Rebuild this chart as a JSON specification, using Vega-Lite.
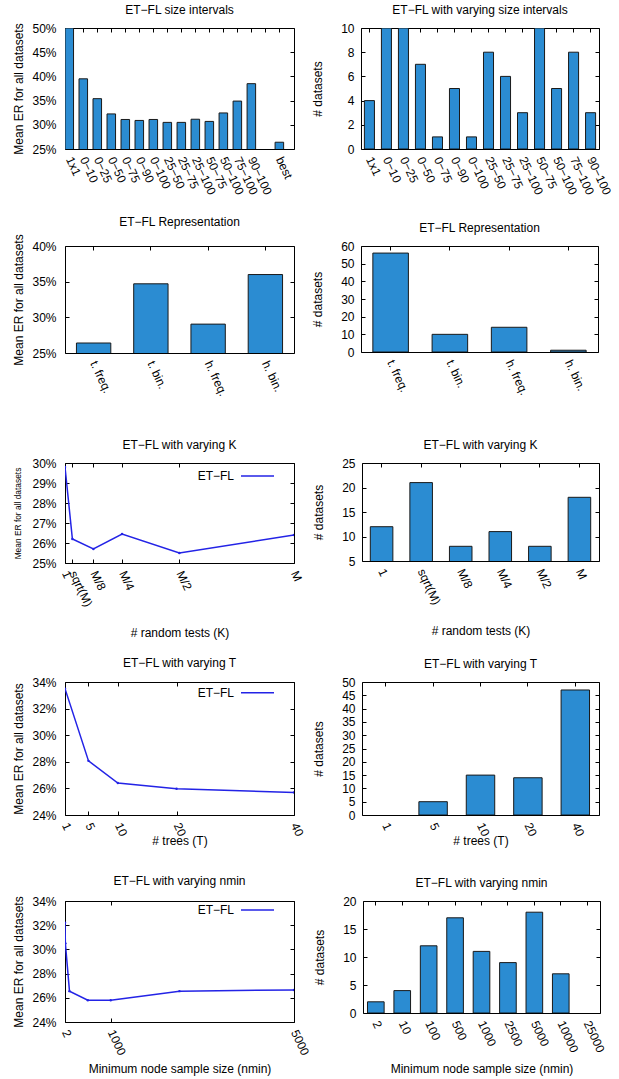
{
"$schema": "https://vega.github.io/schema/vega-lite/v6.json",
"padding": {"left": 11, "top": 3, "right": 5, "bottom": 4},
"background": "white",
"config": {
  "font": "Liberation Sans",
  "view": {"stroke": "#000", "strokeWidth": 1},
  "title": {"fontSize": 12, "fontWeight": "normal", "color": "#000", "offset": 5, "frame": "group", "anchor": "middle"},
  "axis": {"grid": false, "domain": false, "labelFontSize": 12, "labelColor": "#000", "titleFontSize": 12, "titleFontWeight": "normal", "titleColor": "#000", "tickColor": "#000", "labelOverlap": false, "labelFlush": false},
  "axisY": {"tickSize": -4, "labelPadding": 13, "minExtent": 30, "maxExtent": 30, "titlePadding": 10},
  "axisX": {"ticks": false, "labelAngle": 65, "labelAlign": "left", "labelBaseline": "middle", "labelPadding": 8, "titleBaseline": "top"},
  "legend": {"labelFontSize": 12, "labelColor": "#000"}
},
"resolve": {"scale": {"color": "independent"}, "legend": {"color": "independent"}},
"vconcat": [
  {"hconcat": [
    {"title": "ET−FL size intervals", "width": 229, "height": 121,
     "data": {"values": [
       {"interval": "1x1", "er": 0.5},
       {"interval": "0−10", "er": 0.395},
       {"interval": "0−25", "er": 0.354},
       {"interval": "0−50", "er": 0.3225},
       {"interval": "0−75", "er": 0.311},
       {"interval": "0−90", "er": 0.309},
       {"interval": "0−100", "er": 0.311},
       {"interval": "25−50", "er": 0.305},
       {"interval": "25−75", "er": 0.305},
       {"interval": "25−100", "er": 0.3115},
       {"interval": "50−75", "er": 0.307},
       {"interval": "50−100", "er": 0.3245},
       {"interval": "75−100", "er": 0.349},
       {"interval": "90−100", "er": 0.385},
       {"interval": "best", "er": 0.264}
     ]},
     "layer": [
       {"mark": {"type": "bar", "fill": "#2b8cd2", "stroke": "#1a1a1a", "strokeWidth": 1, "clip": true},
        "encoding": {
          "x": {"field": "interval", "type": "nominal",
                "scale": {"domain": ["1x1", "0−10", "0−25", "0−50", "0−75", "0−90", "0−100", "25−50", "25−75", "25−100", "50−75", "50−100", "75−100", "90−100", " ", "best"], "paddingInner": 0.39, "paddingOuter": 0.37, "align": 0},
                "axis": {"title": null}},
          "y": {"field": "er", "type": "quantitative",
                "scale": {"domain": [0.25, 0.5], "nice": false, "zero": false},
                "axis": {"title": "Mean ER for all datasets", "format": ".0%", "values": [0.25, 0.3, 0.35, 0.4, 0.45, 0.5]}}
        }},
       {"mark": {"type": "bar", "opacity": 0, "clip": true},
        "encoding": {
          "x": {"field": "interval", "type": "nominal",
                "scale": {"domain": ["1x1", "0−10", "0−25", "0−50", "0−75", "0−90", "0−100", "25−50", "25−75", "25−100", "50−75", "50−100", "75−100", "90−100", " ", "best"], "paddingInner": 0.39, "paddingOuter": 0.37, "align": 0},
                "axis": {"orient": "top", "labels": false, "ticks": true, "tickSize": -4, "title": null}},
          "y": {"field": "er", "type": "quantitative",
                "scale": {"domain": [0.25, 0.5], "nice": false, "zero": false},
                "axis": {"orient": "right", "labels": false, "title": null, "minExtent": 0, "maxExtent": 0, "values": [0.25, 0.3, 0.35, 0.4, 0.45, 0.5]}}
        }}
     ],
     "resolve": {"axis": {"x": "independent", "y": "independent"}}},
    {"title": "ET−FL with varying size intervals", "width": 238, "height": 121,
     "data": {"values": [
       {"interval": "1x1", "n": 4},
       {"interval": "0−10", "n": 10},
       {"interval": "0−25", "n": 10},
       {"interval": "0−50", "n": 7},
       {"interval": "0−75", "n": 1},
       {"interval": "0−90", "n": 5},
       {"interval": "0−100", "n": 1},
       {"interval": "25−50", "n": 8},
       {"interval": "25−75", "n": 6},
       {"interval": "25−100", "n": 3},
       {"interval": "50−75", "n": 10},
       {"interval": "50−100", "n": 5},
       {"interval": "75−100", "n": 8},
       {"interval": "90−100", "n": 3}
     ]},
     "layer": [
       {"mark": {"type": "bar", "fill": "#2b8cd2", "stroke": "#1a1a1a", "strokeWidth": 1, "clip": true},
        "encoding": {
          "x": {"field": "interval", "type": "nominal", "sort": null,
                "scale": {"paddingInner": 0.41, "paddingOuter": 0.2},
                "axis": {"title": null}},
          "y": {"field": "n", "type": "quantitative",
                "scale": {"domain": [0, 10], "nice": false},
                "axis": {"title": "# datasets", "values": [0, 2, 4, 6, 8, 10], "titlePadding": 7, "labelPadding": 11}}
        }},
       {"mark": {"type": "bar", "opacity": 0, "clip": true},
        "encoding": {
          "x": {"field": "interval", "type": "nominal", "sort": null,
                "scale": {"paddingInner": 0.41, "paddingOuter": 0.2},
                "axis": {"orient": "top", "labels": false, "ticks": true, "tickSize": -4, "title": null}},
          "y": {"field": "n", "type": "quantitative",
                "scale": {"domain": [0, 10], "nice": false},
                "axis": {"orient": "right", "labels": false, "title": null, "minExtent": 0, "maxExtent": 0, "values": [0, 2, 4, 6, 8, 10]}}
        }}
     ],
     "resolve": {"axis": {"x": "independent", "y": "independent"}}}
  ], "spacing": 15},
  {"vconcat": [
    {"hconcat": [
      {"title": "ET−FL Representation", "width": 229, "height": 107,
       "data": {"values": [
         {"rep": "t. freq.", "er": 0.264},
         {"rep": "t. bin.", "er": 0.347},
         {"rep": "h. freq.", "er": 0.2905},
         {"rep": "h. bin.", "er": 0.36}
       ]},
       "layer": [
         {"mark": {"type": "bar", "fill": "#2b8cd2", "stroke": "#1a1a1a", "strokeWidth": 1, "clip": true},
          "encoding": {
            "x": {"field": "rep", "type": "nominal", "sort": null,
                  "scale": {"paddingInner": 0.4, "paddingOuter": 0.2},
                  "axis": {"title": null}},
            "y": {"field": "er", "type": "quantitative",
                  "scale": {"domain": [0.25, 0.4], "nice": false, "zero": false},
                  "axis": {"title": "Mean ER for all datasets", "format": ".0%", "values": [0.25, 0.3, 0.35, 0.4]}}
          }},
         {"mark": {"type": "bar", "opacity": 0, "clip": true},
          "encoding": {
            "x": {"field": "rep", "type": "nominal", "sort": null,
                  "scale": {"paddingInner": 0.4, "paddingOuter": 0.2},
                  "axis": {"orient": "top", "labels": false, "ticks": true, "tickSize": -4, "title": null}},
            "y": {"field": "er", "type": "quantitative",
                  "scale": {"domain": [0.25, 0.4], "nice": false, "zero": false},
                  "axis": {"orient": "right", "labels": false, "title": null, "minExtent": 0, "maxExtent": 0, "values": [0.25, 0.3, 0.35, 0.4]}}
          }}
       ],
       "resolve": {"axis": {"x": "independent", "y": "independent"}}},
      {"title": "ET−FL Representation", "width": 237, "height": 106,
       "data": {"values": [
         {"rep": "t. freq.", "n": 56},
         {"rep": "t. bin.", "n": 10},
         {"rep": "h. freq.", "n": 14},
         {"rep": "h. bin.", "n": 1}
       ]},
       "layer": [
         {"mark": {"type": "bar", "fill": "#2b8cd2", "stroke": "#1a1a1a", "strokeWidth": 1, "clip": true},
          "encoding": {
            "x": {"field": "rep", "type": "nominal", "sort": null,
                  "scale": {"paddingInner": 0.4, "paddingOuter": 0.2},
                  "axis": {"title": null}},
            "y": {"field": "n", "type": "quantitative",
                  "scale": {"domain": [0, 60], "nice": false},
                  "axis": {"title": "# datasets", "values": [0, 10, 20, 30, 40, 50, 60], "titlePadding": 7, "labelPadding": 11}}
          }},
         {"mark": {"type": "bar", "opacity": 0, "clip": true},
          "encoding": {
            "x": {"field": "rep", "type": "nominal", "sort": null,
                  "scale": {"paddingInner": 0.4, "paddingOuter": 0.2},
                  "axis": {"orient": "top", "labels": false, "ticks": true, "tickSize": -4, "title": null}},
            "y": {"field": "n", "type": "quantitative",
                  "scale": {"domain": [0, 60], "nice": false},
                  "axis": {"orient": "right", "labels": false, "title": null, "minExtent": 0, "maxExtent": 0, "values": [0, 10, 20, 30, 40, 50, 60]}}
          }}
       ],
       "resolve": {"axis": {"x": "independent", "y": "independent"}}}
    ], "spacing": 15},
    {"vconcat": [
      {"hconcat": [
        {"title": "ET−FL with varying K", "width": 229, "height": 100,
         "data": {"values": [
           {"k": 1, "er": 0.298, "series": "ET−FL"},
           {"k": 30, "er": 0.262, "series": "ET−FL"},
           {"k": 112.5, "er": 0.257, "series": "ET−FL"},
           {"k": 225, "er": 0.2645, "series": "ET−FL"},
           {"k": 450, "er": 0.255, "series": "ET−FL"},
           {"k": 900, "er": 0.264, "series": "ET−FL"}
         ]},
         "layer": [
           {"mark": {"type": "line", "strokeWidth": 1.5, "clip": true, "point": {"filled": true, "size": 6}},
            "encoding": {
              "x": {"field": "k", "type": "quantitative",
                    "scale": {"domain": [1, 900], "nice": false, "zero": false},
                    "axis": {"title": "# random tests (K)", "titleY": 64, "values": [1, 30, 112.5, 225, 450, 900], "ticks": true, "tickSize": -4, "labelPadding": 12,
                             "labelExpr": "datum.value == 1 ? '1' : datum.value == 30 ? 'sqrt(M)' : datum.value == 112.5 ? 'M/8' : datum.value == 225 ? 'M/4' : datum.value == 450 ? 'M/2' : 'M'"}},
              "y": {"field": "er", "type": "quantitative",
                    "scale": {"domain": [0.25, 0.3], "nice": false, "zero": false},
                    "axis": {"title": "Mean ER for all datasets", "titleFontSize": 8.4, "titlePadding": 13, "format": ".0%", "values": [0.25, 0.26, 0.27, 0.28, 0.29, 0.3]}},
              "color": {"field": "series", "type": "nominal", "scale": {"range": ["#2323e6"]},
                        "legend": {"title": null, "orient": "none", "legendX": 175, "legendY": -4.5, "symbolType": "stroke", "symbolSize": 1089, "symbolStrokeWidth": 1.5, "labelAlign": "right", "labelOffset": -41, "padding": 0}}
            }},
           {"mark": {"type": "point", "opacity": 0, "clip": true},
            "encoding": {
              "x": {"field": "k", "type": "quantitative",
                    "scale": {"domain": [1, 900], "nice": false, "zero": false},
                    "axis": {"orient": "top", "labels": false, "ticks": true, "tickSize": -4, "title": null, "values": [1, 30, 112.5, 225, 450, 900]}},
              "y": {"field": "er", "type": "quantitative",
                    "scale": {"domain": [0.25, 0.3], "nice": false, "zero": false},
                    "axis": {"orient": "right", "labels": false, "title": null, "minExtent": 0, "maxExtent": 0, "values": [0.25, 0.26, 0.27, 0.28, 0.29, 0.3]}}
            }}
         ],
         "resolve": {"axis": {"x": "independent", "y": "independent"}}},
        {"title": "ET−FL with varying K", "width": 237, "height": 98,
         "data": {"values": [
           {"k": "1", "n": 12},
           {"k": "sqrt(M)", "n": 21},
           {"k": "M/8", "n": 8},
           {"k": "M/4", "n": 11},
           {"k": "M/2", "n": 8},
           {"k": "M", "n": 18}
         ]},
         "layer": [
           {"mark": {"type": "bar", "fill": "#2b8cd2", "stroke": "#1a1a1a", "strokeWidth": 1, "clip": true},
            "encoding": {
              "x": {"field": "k", "type": "nominal", "sort": null,
                    "scale": {"paddingInner": 0.43, "paddingOuter": 0.21},
                    "axis": {"title": "# random tests (K)", "titleY": 64}},
              "y": {"field": "n", "type": "quantitative",
                    "scale": {"domain": [5, 25], "nice": false, "zero": false},
                    "axis": {"title": "# datasets", "values": [5, 10, 15, 20, 25], "titlePadding": 7, "labelPadding": 11}}
            }},
           {"mark": {"type": "bar", "opacity": 0, "clip": true},
            "encoding": {
              "x": {"field": "k", "type": "nominal", "sort": null,
                    "scale": {"paddingInner": 0.43, "paddingOuter": 0.21},
                    "axis": {"orient": "top", "labels": false, "ticks": true, "tickSize": -4, "title": null}},
              "y": {"field": "n", "type": "quantitative",
                    "scale": {"domain": [5, 25], "nice": false, "zero": false},
                    "axis": {"orient": "right", "labels": false, "title": null, "minExtent": 0, "maxExtent": 0, "values": [5, 10, 15, 20, 25]}}
            }}
         ],
         "resolve": {"axis": {"x": "independent", "y": "independent"}}}
      ], "spacing": 6, "resolve": {"scale": {"color": "independent"}, "legend": {"color": "independent"}}},
      {"vconcat": [
        {"hconcat": [
          {"title": "ET−FL with varying T", "width": 229, "height": 133,
           "data": {"values": [
             {"t": 1, "er": 0.335, "series": "ET−FL"},
             {"t": 5, "er": 0.2807, "series": "ET−FL"},
             {"t": 10, "er": 0.264, "series": "ET−FL"},
             {"t": 20, "er": 0.2597, "series": "ET−FL"},
             {"t": 40, "er": 0.257, "series": "ET−FL"}
           ]},
           "layer": [
             {"mark": {"type": "line", "strokeWidth": 1.5, "clip": true, "point": {"filled": true, "size": 6}},
              "encoding": {
                "x": {"field": "t", "type": "quantitative",
                      "scale": {"domain": [1, 40], "nice": false, "zero": false},
                      "axis": {"title": "# trees (T)", "titleY": 20, "values": [1, 5, 10, 20, 40], "ticks": true, "tickSize": -4, "labelPadding": 12}},
                "y": {"field": "er", "type": "quantitative",
                      "scale": {"domain": [0.24, 0.34], "nice": false, "zero": false},
                      "axis": {"title": "Mean ER for all datasets", "format": ".0%", "values": [0.24, 0.26, 0.28, 0.3, 0.32, 0.34]}},
                "color": {"field": "series", "type": "nominal", "scale": {"range": ["#2323e6"]},
                          "legend": {"title": null, "orient": "none", "legendX": 175, "legendY": -6.8, "symbolType": "stroke", "symbolSize": 1089, "symbolStrokeWidth": 1.5, "labelAlign": "right", "labelOffset": -41, "padding": 0}}
              }},
             {"mark": {"type": "point", "opacity": 0, "clip": true},
              "encoding": {
                "x": {"field": "t", "type": "quantitative",
                      "scale": {"domain": [1, 40], "nice": false, "zero": false},
                      "axis": {"orient": "top", "labels": false, "ticks": true, "tickSize": -4, "title": null, "values": [1, 5, 10, 20, 40]}},
                "y": {"field": "er", "type": "quantitative",
                      "scale": {"domain": [0.24, 0.34], "nice": false, "zero": false},
                      "axis": {"orient": "right", "labels": false, "title": null, "minExtent": 0, "maxExtent": 0, "values": [0.24, 0.26, 0.28, 0.3, 0.32, 0.34]}}
              }}
           ],
           "resolve": {"axis": {"x": "independent", "y": "independent"}}},
          {"title": "ET−FL with varying T", "width": 237, "height": 133,
           "data": {"values": [
             {"t": "1", "n": 0},
             {"t": "5", "n": 5},
             {"t": "10", "n": 15},
             {"t": "20", "n": 14},
             {"t": "40", "n": 47}
           ]},
           "transform": [{"filter": "datum.n > 0"}],
           "layer": [
             {"mark": {"type": "bar", "fill": "#2b8cd2", "stroke": "#1a1a1a", "strokeWidth": 1, "clip": true},
              "encoding": {
                "x": {"field": "t", "type": "nominal",
                      "scale": {"domain": ["1", "5", "10", "20", "40"], "paddingInner": 0.4, "paddingOuter": 0.2},
                      "axis": {"title": "# trees (T)", "titleY": 20}},
                "y": {"field": "n", "type": "quantitative",
                      "scale": {"domain": [0, 50], "nice": false},
                      "axis": {"title": "# datasets", "values": [0, 5, 10, 15, 20, 25, 30, 35, 40, 45, 50], "titlePadding": 7, "labelPadding": 11}}
              }},
             {"mark": {"type": "bar", "opacity": 0, "clip": true},
              "encoding": {
                "x": {"field": "t", "type": "nominal",
                      "scale": {"domain": ["1", "5", "10", "20", "40"], "paddingInner": 0.4, "paddingOuter": 0.2},
                      "axis": {"orient": "top", "labels": false, "ticks": true, "tickSize": -4, "title": null}},
                "y": {"field": "n", "type": "quantitative",
                      "scale": {"domain": [0, 50], "nice": false},
                      "axis": {"orient": "right", "labels": false, "title": null, "minExtent": 0, "maxExtent": 0, "values": [0, 5, 10, 15, 20, 25, 30, 35, 40, 45, 50]}}
              }}
           ],
           "resolve": {"axis": {"x": "independent", "y": "independent"}}}
        ], "spacing": 5, "resolve": {"scale": {"color": "independent"}, "legend": {"color": "independent"}}},
        {"hconcat": [
          {"title": "ET−FL with varying nmin", "width": 229, "height": 121,
           "data": {"values": [
             {"nmin": 2, "er": 0.322, "series": "ET−FL"},
             {"nmin": 10, "er": 0.305, "series": "ET−FL"},
             {"nmin": 100, "er": 0.2655, "series": "ET−FL"},
             {"nmin": 500, "er": 0.258, "series": "ET−FL"},
             {"nmin": 1000, "er": 0.258, "series": "ET−FL"},
             {"nmin": 2500, "er": 0.2655, "series": "ET−FL"},
             {"nmin": 5000, "er": 0.2665, "series": "ET−FL"}
           ]},
           "layer": [
             {"mark": {"type": "line", "strokeWidth": 1.5, "clip": true, "point": {"filled": true, "size": 6}},
              "encoding": {
                "x": {"field": "nmin", "type": "quantitative",
                      "scale": {"domain": [2, 5000], "nice": false, "zero": false},
                      "axis": {"title": "Minimum node sample size (nmin)", "titleY": 41, "values": [2, 1000, 5000], "format": "d", "ticks": true, "tickSize": -4, "labelPadding": 12}},
                "y": {"field": "er", "type": "quantitative",
                      "scale": {"domain": [0.24, 0.34], "nice": false, "zero": false},
                      "axis": {"title": "Mean ER for all datasets", "format": ".0%", "values": [0.24, 0.26, 0.28, 0.3, 0.32, 0.34]}},
                "color": {"field": "series", "type": "nominal", "scale": {"range": ["#2323e6"]},
                          "legend": {"title": null, "orient": "none", "legendX": 175, "legendY": -8.5, "symbolType": "stroke", "symbolSize": 1089, "symbolStrokeWidth": 1.5, "labelAlign": "right", "labelOffset": -41, "padding": 0}}
              }},
             {"mark": {"type": "point", "opacity": 0, "clip": true},
              "encoding": {
                "x": {"field": "nmin", "type": "quantitative",
                      "scale": {"domain": [2, 5000], "nice": false, "zero": false},
                      "axis": {"orient": "top", "labels": false, "ticks": true, "tickSize": -4, "title": null, "values": [2, 1000, 5000]}},
                "y": {"field": "er", "type": "quantitative",
                      "scale": {"domain": [0.24, 0.34], "nice": false, "zero": false},
                      "axis": {"orient": "right", "labels": false, "title": null, "minExtent": 0, "maxExtent": 0, "values": [0.24, 0.26, 0.28, 0.3, 0.32, 0.34]}}
              }}
           ],
           "resolve": {"axis": {"x": "independent", "y": "independent"}}},
          {"title": "ET−FL with varying nmin", "width": 237, "height": 112,
           "data": {"values": [
             {"nmin": "2", "n": 2},
             {"nmin": "10", "n": 4},
             {"nmin": "100", "n": 12},
             {"nmin": "500", "n": 17},
             {"nmin": "1000", "n": 11},
             {"nmin": "2500", "n": 9},
             {"nmin": "5000", "n": 18},
             {"nmin": "10000", "n": 7},
             {"nmin": "25000", "n": 0}
           ]},
           "transform": [{"filter": "datum.n > 0"}],
           "layer": [
             {"mark": {"type": "bar", "fill": "#2b8cd2", "stroke": "#1a1a1a", "strokeWidth": 1, "clip": true},
              "encoding": {
                "x": {"field": "nmin", "type": "nominal",
                      "scale": {"domain": ["2", "10", "100", "500", "1000", "2500", "5000", "10000", "25000"], "paddingInner": 0.37, "paddingOuter": 0.17},
                      "axis": {"title": "Minimum node sample size (nmin)", "titleY": 50}},
                "y": {"field": "n", "type": "quantitative",
                      "scale": {"domain": [0, 20], "nice": false},
                      "axis": {"title": "# datasets", "values": [0, 5, 10, 15, 20], "titlePadding": 7, "labelPadding": 11}}
              }},
             {"mark": {"type": "bar", "opacity": 0, "clip": true},
              "encoding": {
                "x": {"field": "nmin", "type": "nominal",
                      "scale": {"domain": ["2", "10", "100", "500", "1000", "2500", "5000", "10000", "25000"], "paddingInner": 0.37, "paddingOuter": 0.17},
                      "axis": {"orient": "top", "labels": false, "ticks": true, "tickSize": -4, "title": null}},
                "y": {"field": "n", "type": "quantitative",
                      "scale": {"domain": [0, 20], "nice": false},
                      "axis": {"orient": "right", "labels": false, "title": null, "minExtent": 0, "maxExtent": 0, "values": [0, 5, 10, 15, 20]}}
              }}
           ],
           "resolve": {"axis": {"x": "independent", "y": "independent"}}}
        ], "spacing": 0, "resolve": {"scale": {"color": "independent"}, "legend": {"color": "independent"}}}
      ], "spacing": 27, "resolve": {"scale": {"color": "independent"}, "legend": {"color": "independent"}}}
    ], "spacing": 17, "resolve": {"scale": {"color": "independent"}, "legend": {"color": "independent"}}}
  ], "spacing": 40, "resolve": {"scale": {"color": "independent"}, "legend": {"color": "independent"}}}
], "spacing": 18}
